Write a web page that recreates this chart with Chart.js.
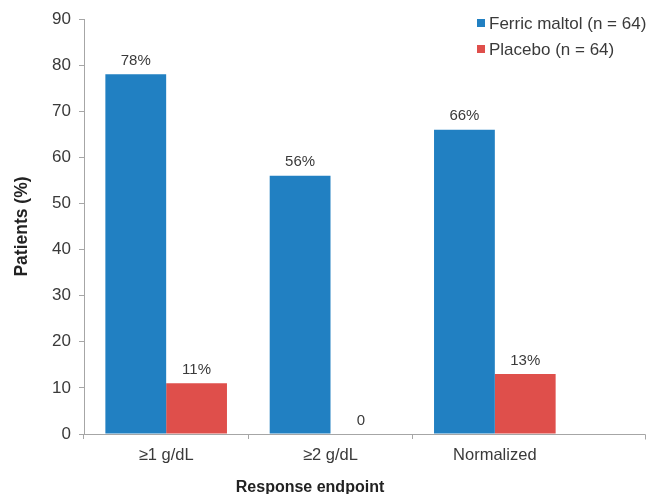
<!DOCTYPE html>
<html>
<head>
<meta charset="utf-8">
<script src="https://cdn.jsdelivr.net/npm/chart.js@4.4.1/dist/chart.umd.min.js"></script>
<style>
  html, body { margin: 0; padding: 0; background: #fff; }
  #wrap { width: 652px; height: 494px; position: relative; }
</style>
</head>
<body>
<div id="wrap"><canvas id="myChart"></canvas></div>
<script>
const categories = ['≥1 g/dL', '≥2 g/dL', 'Normalized'];
const ferricMaltol = [78, 56, 66];
const placebo = [11, 0, 13];
const seriesNames = ['Ferric maltol (n = 64)', 'Placebo (n = 64)'];
const yTicks = [0, 10, 20, 30, 40, 50, 60, 70, 80, 90];

const textColor = '#3a3a3a';
const axisColor = '#a6a6a6';
const fontFamily = '"Liberation Sans", Arial, sans-serif';

// value labels above each bar
const barLabels = {
  id: 'barLabels',
  afterDatasetsDraw(chart) {
    const ctx = chart.ctx;
    ctx.save();
    ctx.font = '15px ' + fontFamily;
    ctx.fillStyle = textColor;
    ctx.textAlign = 'center';
    ctx.textBaseline = 'bottom';
    chart.data.datasets.forEach((ds, i) => {
      chart.getDatasetMeta(i).data.forEach((bar, j) => {
        const v = ds.data[j];
        ctx.fillText(v === 0 ? '0' : v + '%', bar.x, bar.y - 6);
      });
    });
    ctx.restore();
  }
};

// legend inside the plot, top right, stacked
const innerLegend = {
  id: 'innerLegend',
  afterDraw(chart) {
    const ctx = chart.ctx;
    ctx.save();
    ctx.font = '17px ' + fontFamily;
    ctx.textBaseline = 'middle';
    chart.data.datasets.forEach((ds, i) => {
      const y = 23 + i * 26;
      ctx.fillStyle = ds.backgroundColor;
      ctx.fillRect(477, y - 4, 8, 8);
      ctx.fillStyle = textColor;
      ctx.fillText(ds.label, 489, y + 1);
    });
    ctx.restore();
  }
};

// x axis line runs on past the last category, plus the x title
const axisExtras = {
  id: 'axisExtras',
  afterDraw(chart) {
    const ctx = chart.ctx;
    const a = chart.chartArea;
    ctx.save();
    ctx.strokeStyle = axisColor;
    ctx.lineWidth = 1;
    ctx.beginPath();
    ctx.moveTo(a.right, a.bottom + 0.5);
    ctx.lineTo(645.5, a.bottom + 0.5);
    ctx.lineTo(645.5, a.bottom + 5.5);
    ctx.stroke();
    ctx.font = 'bold 16px ' + fontFamily;
    ctx.fillStyle = '#222';
    ctx.textAlign = 'center';
    ctx.textBaseline = 'middle';
    ctx.fillText('Response endpoint', 310, 488);
    ctx.restore();
  }
};

new Chart(document.getElementById('myChart'), {
  type: 'bar',
  data: {
    labels: categories,
    datasets: [
      { label: seriesNames[0], data: ferricMaltol, backgroundColor: '#2180c2' },
      { label: seriesNames[1], data: placebo, backgroundColor: '#df4f4b' }
    ]
  },
  options: {
    responsive: true,
    maintainAspectRatio: false,
    animation: false,
    layout: { padding: { top: 19, right: 75, left: 0, bottom: 0 } },
    plugins: {
      legend: { display: false },
      tooltip: { enabled: false }
    },
    datasets: {
      bar: { categoryPercentage: 0.74, barPercentage: 1.0 }
    },
    scales: {
      x: {
        afterFit(scale) { scale.height = 60; },
        border: { color: axisColor },
        grid: {
          drawOnChartArea: false,
          drawTicks: true,
          tickLength: 5,
          tickColor: (c) => c.tick ? axisColor : 'rgba(0,0,0,0)'
        },
        ticks: {
          color: textColor,
          padding: 7,
          font: { family: fontFamily, size: 16.5 }
        }
      },
      y: {
        min: 0,
        max: 90,
        afterFit(scale) { scale.width = 84; },
        afterBuildTicks(scale) { scale.ticks = yTicks.map(v => ({ value: v })); },
        border: { color: axisColor },
        grid: {
          drawOnChartArea: false,
          drawTicks: true,
          tickLength: 5,
          color: axisColor
        },
        ticks: {
          color: textColor,
          padding: 8,
          font: { family: fontFamily, size: 17 }
        },
        title: {
          display: true,
          text: 'Patients (%)',
          color: '#222',
          padding: { top: 12, bottom: 0 },
          font: { family: fontFamily, size: 17.5, weight: 'bold' }
        }
      }
    }
  },
  plugins: [barLabels, innerLegend, axisExtras]
});
</script>
</body>
</html>
